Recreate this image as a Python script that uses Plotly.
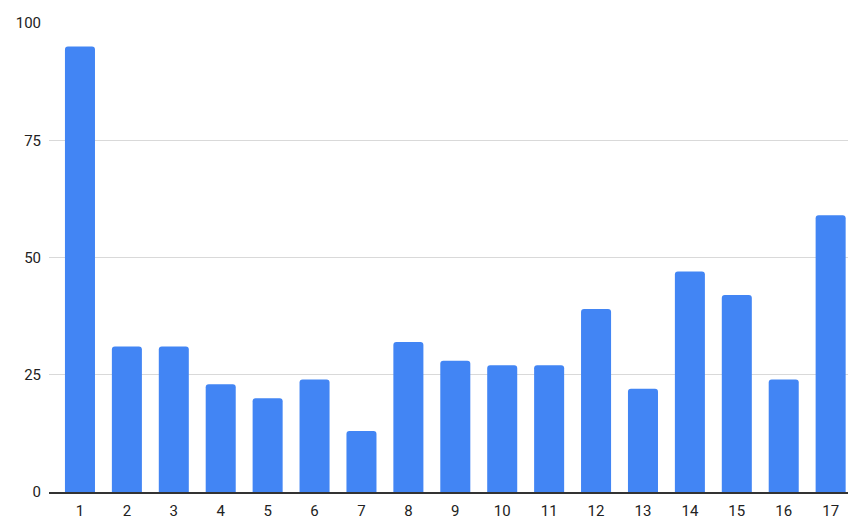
import plotly.graph_objects as go

categories = list(range(1, 18))
values = [95, 31, 31, 23, 20, 24, 13, 32, 28, 27, 27, 39, 22, 47, 42, 24, 59]
y_ticks = [0, 25, 50, 75, 100]

fig = go.Figure(go.Bar(
    x=categories, y=values, marker_color="#4285F4", marker_line_width=0, width=0.64,
))
fig.update_layout(
    width=850, height=522, margin=dict(l=49, r=2, t=23, b=30),
    paper_bgcolor="white", plot_bgcolor="white",
    font=dict(family="Roboto", size=15, color="#222222"),
    barcornerradius=3, showlegend=False,
    xaxis=dict(tickmode="array", tickvals=categories, ticktext=[str(c) for c in categories],
               range=[0.34, 17.37], showgrid=False, ticks="", showline=True,
               linecolor="#333333", linewidth=1.5, ticklabelstandoff=4),
    yaxis=dict(range=[0, 100], tickvals=y_ticks, showgrid=True, gridcolor="#d9d9d9",
               zeroline=False, ticks="", ticklabelstandoff=7),
)
fig.write_html("out.html")
